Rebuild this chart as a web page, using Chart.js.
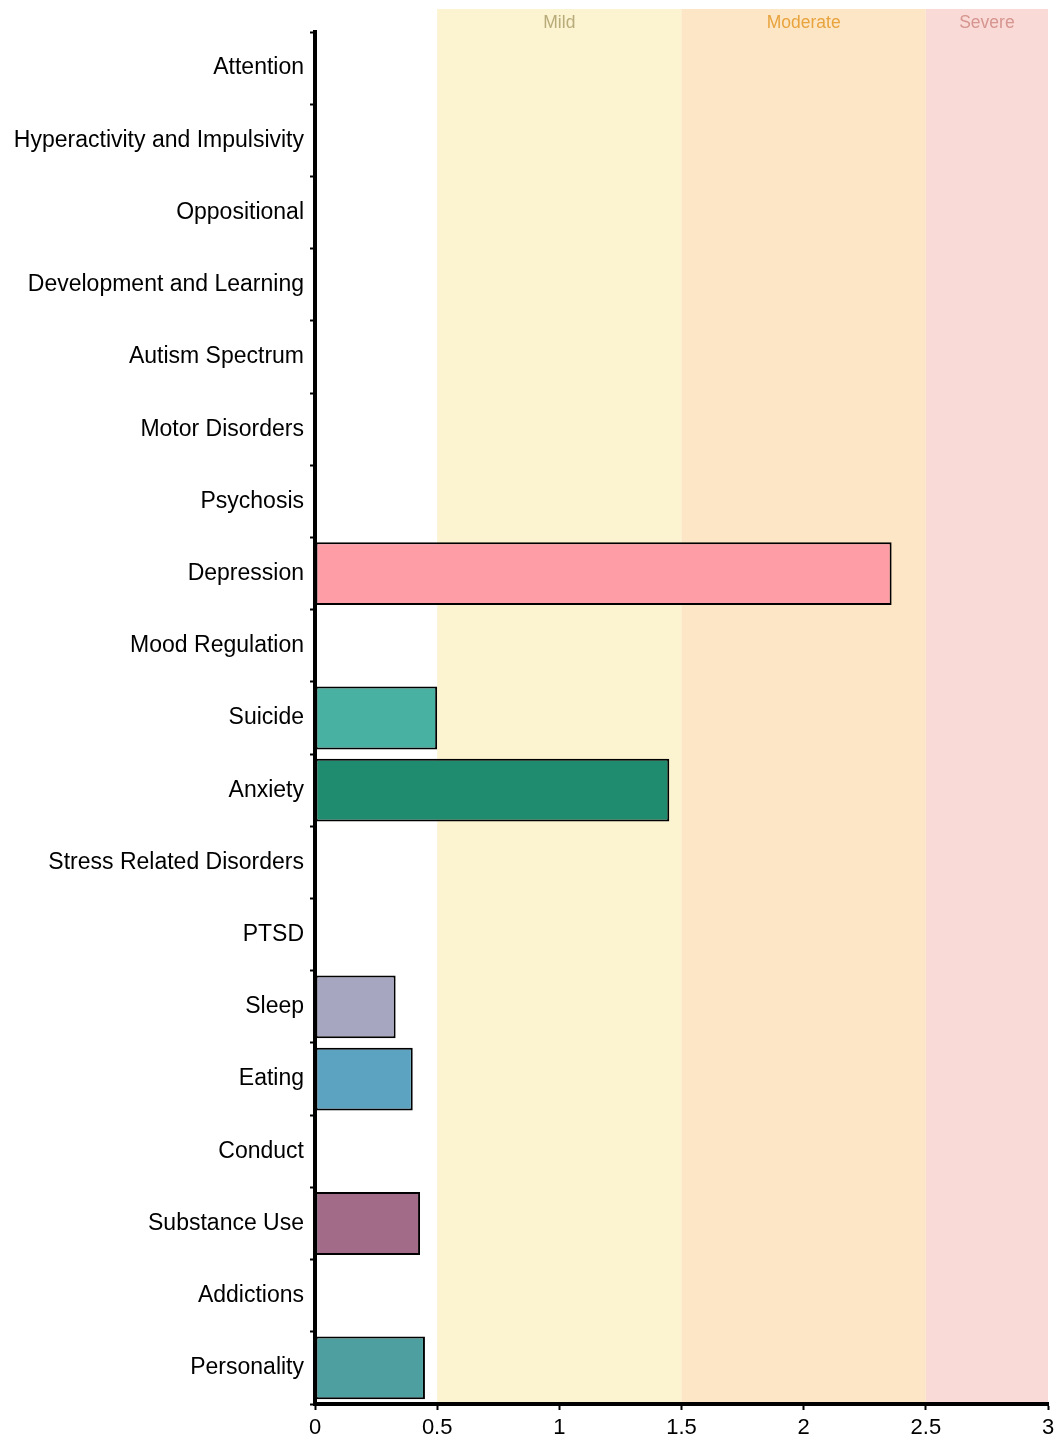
<!DOCTYPE html>
<html>
<head>
<meta charset="utf-8">
<script src="https://cdn.jsdelivr.net/npm/chart.js@4"></script>
<style>
  body { margin: 0; background: #fff; }
  #wrap { width: 1054px; height: 1437px; position: relative; }
</style>
</head>
<body>
<div id="wrap"><canvas id="severityChart"></canvas></div>
<script>
// Categories and scores
const categories = ['Attention', 'Hyperactivity and Impulsivity', 'Oppositional', 'Development and Learning',
    'Autism Spectrum', 'Motor Disorders', 'Psychosis', 'Depression', 'Mood Regulation', 'Suicide',
    'Anxiety', 'Stress Related Disorders', 'PTSD', 'Sleep', 'Eating', 'Conduct', 'Substance Use',
    'Addictions', 'Personality'];
const scores = [null, null, null, null, null, null, null, 2.36, null, 0.5,
    1.45, null, null, 0.33, 0.40, null, 0.43, null, 0.45];
const barColors = ['#ccc', '#ccc', '#ccc', '#ccc', '#ccc', '#ccc', '#ccc', '#FF9DA7', '#ccc', '#48B1A1',
    '#1F8C70', '#ccc', '#ccc', '#A6A6C1', '#5CA3C1', '#ccc', '#A26C89', '#ccc', '#4E9FA0'];
const xTicks = [0, 0.5, 1, 1.5, 2, 2.5, 3];

// Severity bands
const bandNames = ['Mild', 'Moderate', 'Severe'];
const bandFrom = [0.5, 1.5, 2.5];
const bandTo = [1.5, 2.5, 3];
const bandFill = ['#FCF3D0', '#FDE6C6', '#FADAD7'];
const bandText = ['#B8AB7A', '#E8A33D', '#D6958F'];

// bands go under the axes, so draw them first
const bandsPlugin = {
    id: 'bands',
    beforeDraw(chart) {
        const { ctx, chartArea, scales } = chart;
        const x = scales.x;
        ctx.save();
        bandNames.forEach((name, i) => {
            const x0 = x.getPixelForValue(bandFrom[i]);
            const x1 = x.getPixelForValue(bandTo[i]);
            ctx.fillStyle = bandFill[i];
            ctx.fillRect(x0, 9, x1 - x0, chartArea.bottom - 9);
            ctx.fillStyle = bandText[i];
            ctx.font = '17.5px "Liberation Sans", Arial, sans-serif';
            ctx.textAlign = 'center';
            ctx.textBaseline = 'middle';
            ctx.fillText(name, (x0 + x1) / 2, 23);
        });
        ctx.restore();
    }
};

const ctx = document.getElementById('severityChart').getContext('2d');
const severityChart = new Chart(ctx, {
    type: 'bar',
    data: {
        labels: categories,
        datasets: [{
            data: scores,
            backgroundColor: barColors,
            borderColor: '#000',
            borderWidth: 2,
            borderSkipped: false,
            barPercentage: 0.87,
            categoryPercentage: 1
        }]
    },
    options: {
        indexAxis: 'y',
        responsive: true,
        maintainAspectRatio: false,
        animation: false,
        layout: { padding: { top: 32, right: 5, left: 0, bottom: 0 } },
        plugins: {
            legend: { display: false },
            tooltip: { enabled: false }
        },
        scales: {
            x: {
                min: 0,
                max: 3,
                afterBuildTicks(scale) { scale.ticks = xTicks.map(v => ({ value: v })); },
                afterFit(scale) { scale.height = 33; scale.paddingRight = 6; scale.paddingLeft = 0; },
                grid: { drawOnChartArea: false, color: '#000', tickLength: 6, tickWidth: 2 },
                border: { color: '#000', width: 4 },
                ticks: {
                    color: '#000', padding: 5, maxRotation: 0,
                    callback: v => String(v),
                    font: { family: '"Liberation Sans", Arial', size: 22 }
                }
            },
            y: {
                afterFit(scale) { scale.width = 315; },
                grid: { drawOnChartArea: false, offset: true, color: '#000', tickLength: 5, tickWidth: 2 },
                border: { color: '#000', width: 4 },
                ticks: { color: '#000', padding: 6, autoSkip: false, font: { family: '"Liberation Sans", Arial', size: 23 } }
            }
        }
    },
    plugins: [bandsPlugin]
});
</script>
</body>
</html>
